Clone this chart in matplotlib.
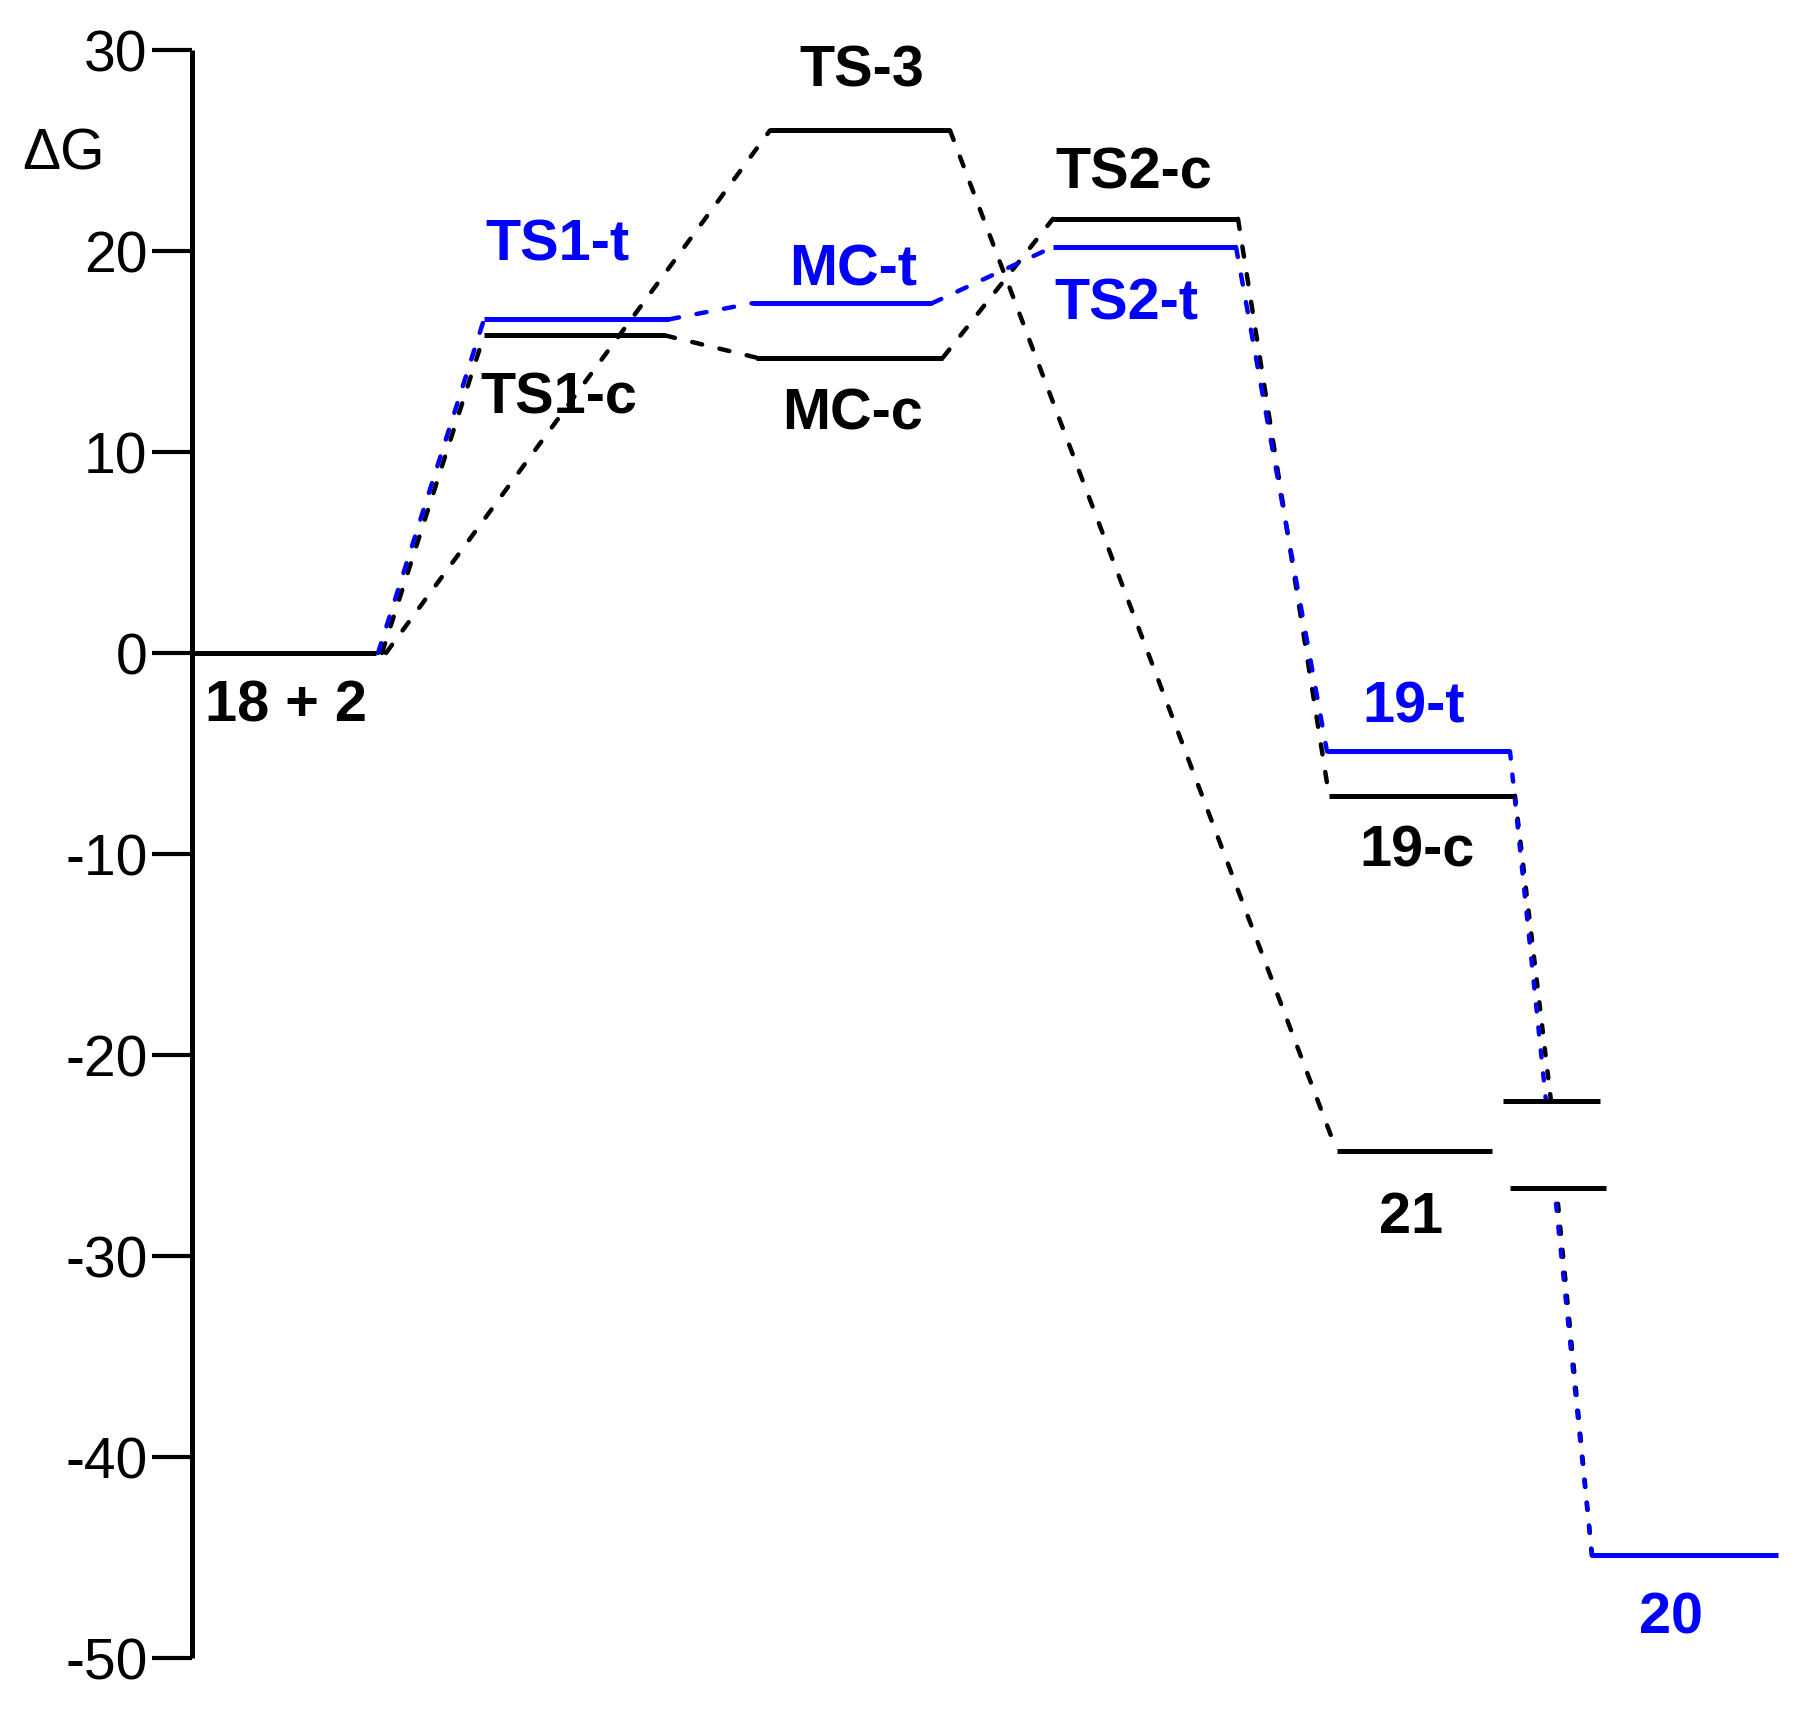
import matplotlib
matplotlib.use("Agg")
import matplotlib.pyplot as plt

plt.rcParams['font.family'] = ['Liberation Sans', 'DejaVu Sans']

# ---------------- data ----------------
states = ["18 + 2", "TS1-t", "TS1-c", "TS-3", "MC-t", "MC-c",
          "TS2-c", "TS2-t", "19-t", "19-c", "21", "20"]
energies = [0.0, 16.6, 15.8, 26.0, 17.4, 14.7,
            21.6, 20.2, -4.9, -7.1, -24.8, -44.9]
yticks = [30, 20, 10, 0, -10, -20, -30, -40, -50]
ytick_labels = ["30", "20", "10", "0", "-10", "-20", "-30", "-40", "-50"]
break_levels = [-22.3, -26.6]   # axis-break marks on the 19 -> 20 path

# connections (from, to, colour)
connections = [
    ("18 + 2", "TS-3", "black"),
    ("18 + 2", "TS1-c", "black"),
    ("18 + 2", "TS1-t", "blue"),
    ("TS1-c", "MC-c", "black"),
    ("TS1-t", "MC-t", "blue"),
    ("MC-c", "TS2-c", "black"),
    ("MC-t", "TS2-t", "blue"),
    ("TS-3", "21", "black"),
    ("TS2-c", "19-c", "black"),
    ("TS2-t", "19-t", "blue"),
]

# ---------------- layout (horizontal placement, styles) ----------------
BLUE = "#0000ff"
colors = {"18 + 2": "black", "TS1-t": BLUE, "TS1-c": "black", "TS-3": "black",
          "MC-t": BLUE, "MC-c": "black", "TS2-c": "black", "TS2-t": BLUE,
          "19-t": BLUE, "19-c": "black", "21": "black", "20": BLUE}
xspan = {"18 + 2": (192, 376), "TS1-t": (484, 669), "TS1-c": (484, 665),
         "TS-3": (770, 950), "MC-t": (752, 932), "MC-c": (756, 943),
         "TS2-c": (1053, 1238), "TS2-t": (1053, 1236),
         "19-t": (1327, 1510), "19-c": (1329, 1515),
         "21": (1337, 1492), "20": (1592, 1778)}
# label centre x and vertical offset of label centre (pixels, +down)
label_pos = {"18 + 2": (286, 48), "TS1-t": (557, -80), "TS1-c": (559, 57),
             "TS-3": (862, -65), "MC-t": (853, -39), "MC-c": (853, 51),
             "TS2-c": (1134, -51), "TS2-t": (1126, 52),
             "19-t": (1414, -50), "19-c": (1417, 50),
             "21": (1411, 61), "20": (1671, 57)}
break_span = [(1503, 1600), (1510, 1606)]

W, H = 1815, 1724
fig = plt.figure(figsize=(W / 100, H / 100), dpi=100)
ax_left = 192 / W
ax = fig.add_axes([ax_left, 1 - 1659 / H, 1 - ax_left, (1659 - 51) / H])
ax.set_xlim(192, W)
ax.set_ylim(-50, 30)

E = dict(zip(states, energies))

LEVEL_LW = 3.6
DASH_LW = 3.2
DASH = (2.3, 4.0)
DOT = (1.6, 3.6)

# level lines
for s in states:
    x0, x1 = xspan[s]
    ax.plot([x0, x1], [E[s], E[s]], color=colors[s], lw=LEVEL_LW,
            solid_capstyle='butt', zorder=3)

# dashed connectors
offs = {"TS-3": 10, "TS1-c": 6, "TS1-t": 2}
for a, b, c in connections:
    xa = xspan[a][1] + (offs.get(b, 0) if a == "18 + 2" else 0)
    xb = xspan[b][0]
    col = BLUE if c == "blue" else "black"
    ax.plot([xa, xb], [E[a], E[b]], color=col, lw=DASH_LW,
            dashes=DASH, dash_capstyle='round',
            zorder=2 if col == "black" else 2.5)

# 19 -> break -> 20 (drawn with both colours, blue on top)
ax.plot([xspan["19-c"][1], 1551], [E["19-c"], break_levels[0]],
        color="black", lw=DASH_LW, dashes=DOT, dash_capstyle='round', zorder=2)
ax.plot([xspan["19-t"][1], 1546], [E["19-t"], break_levels[0]],
        color=BLUE, lw=DASH_LW, dashes=DOT, dash_capstyle='round', zorder=2.5)
ax.plot([1558, xspan["20"][0]], [break_levels[1] - 0.8, E["20"]],
        color="black", lw=DASH_LW, dashes=DOT, dash_capstyle='round', zorder=2)
ax.plot([1556, xspan["20"][0]], [break_levels[1] - 0.8, E["20"]],
        color=BLUE, lw=DASH_LW, dashes=DOT, dash_capstyle='round', zorder=2.5)

# break marks
for (x0, x1), y in zip(break_span, break_levels):
    ax.plot([x0, x1], [y, y], color="black", lw=LEVEL_LW,
            solid_capstyle='butt', zorder=3)

# labels
for s in states:
    xc, d = label_pos[s]
    ax.annotate(s, xy=(xc, E[s]), xytext=(0, -(d + 20)),
                textcoords='offset pixels', ha='center', va='baseline',
                fontsize=41.5, fontweight='bold', color=colors[s],
                annotation_clip=False)

# axes styling
for sp in ["top", "right", "bottom"]:
    ax.spines[sp].set_visible(False)
ax.spines["left"].set_linewidth(3.6)
ax.spines["left"].set_capstyle('butt')
ax.set_xticks([])
ax.set_yticks(yticks)
ax.set_yticklabels(ytick_labels)
ax.tick_params(axis='y', direction='out', length=29, width=3.0,
               labelsize=41, pad=3)

fig.text(64 / W, 1 - 155 / H, "ΔG", fontsize=41, ha='center', va='center')

fig.savefig("out.png", dpi=100)
